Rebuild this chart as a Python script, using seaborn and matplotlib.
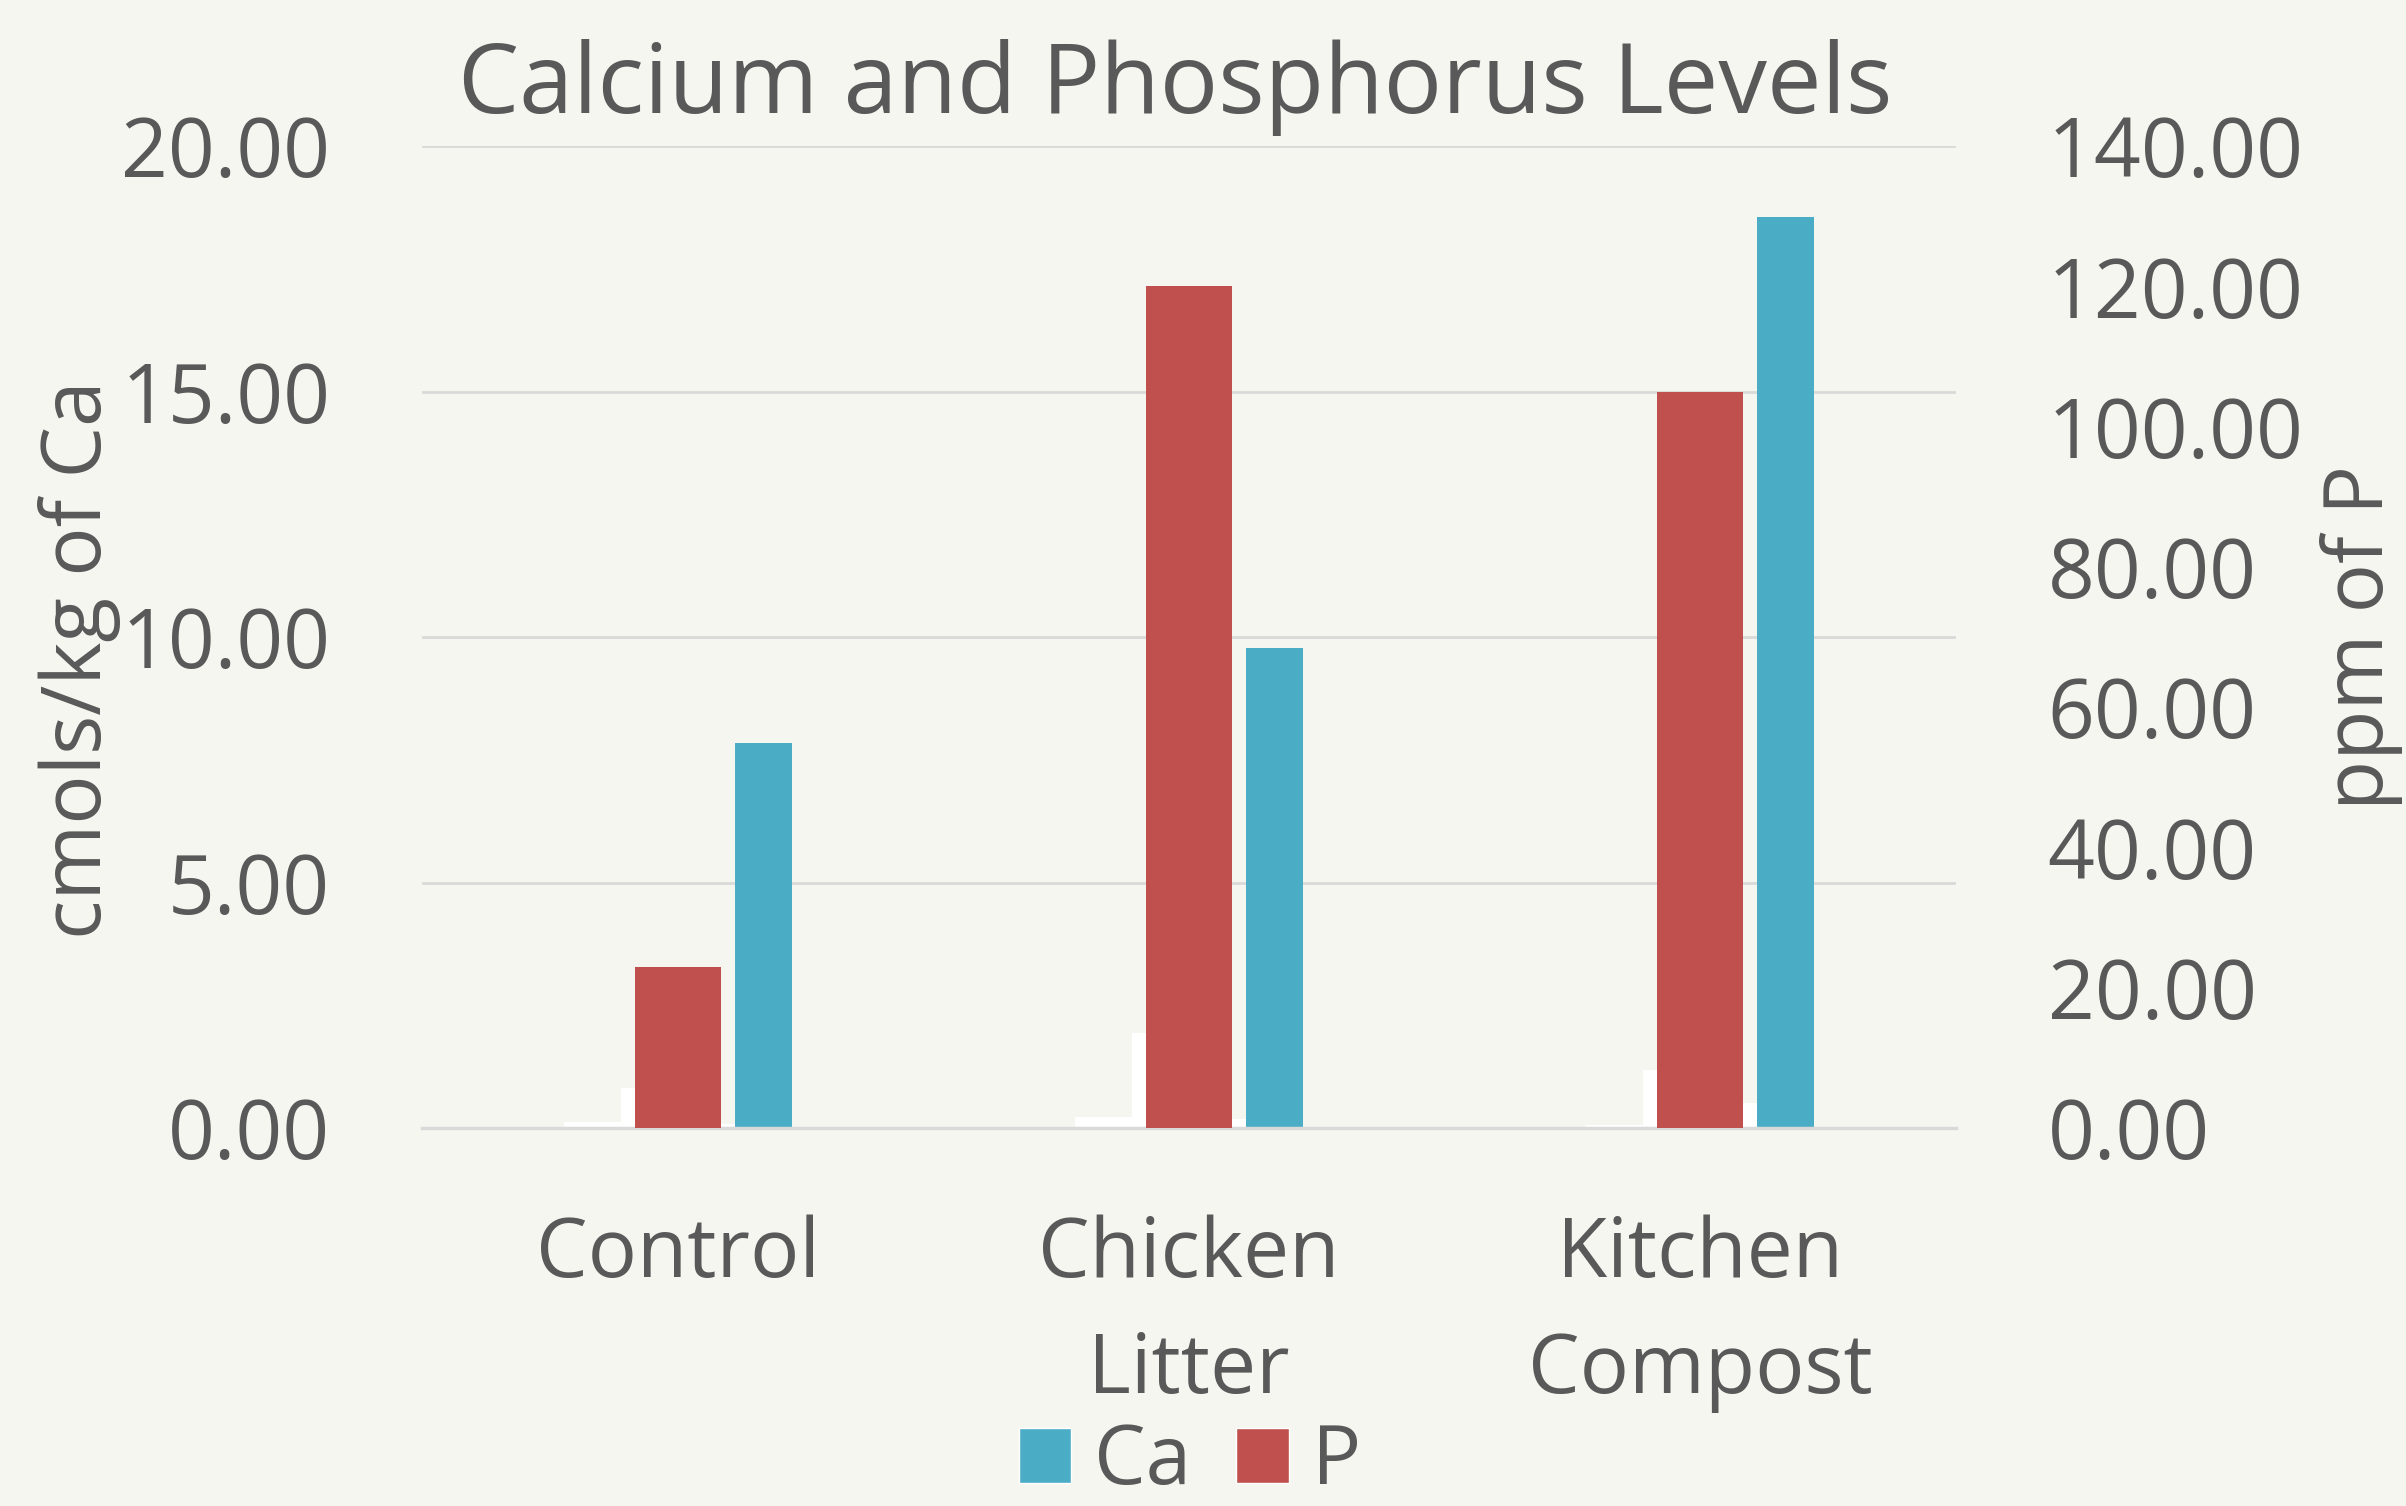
import numpy as np
import pandas as pd
import matplotlib
matplotlib.use("Agg")
import matplotlib.pyplot as plt
from matplotlib.patches import Patch
import seaborn as sns

# --- data ---
categories = ["Control", "Chicken\nLitter", "Kitchen\nCompost"]
ca_values = [7.84, 9.78, 18.56]          # cmols/kg, left axis
p_values = [23.0, 120.1, 105.0]          # ppm, right axis
# unlabelled white series drawn next to Ca on the left axis
white_low = [0.12, 0.22, 0.06]
white_tall = [0.81, 1.93, 1.18]
white_small = [0.09, 0.19, 0.51]

left_ticks = [0, 5, 10, 15, 20]
right_ticks = [0, 20, 40, 60, 80, 100, 120, 140]

BG = "#F6F6F1"
RED = "#C0504D"
BLUE = "#4BACC6"
TXT = "#595959"
GRID = "#D9D9D9"

sns.set_theme(style="white")
plt.rcParams["font.family"] = ["Open Sans", "DejaVu Sans"]

# long table for the left-axis cluster
series_names = ["w1", "w2", "w3", "Ca"]
rows = []
for name, vals in zip(series_names, [white_low, white_tall, white_small, ca_values]):
    for cat, v in zip(categories, vals):
        rows.append({"cat": cat, "series": name, "value": v})
df_left = pd.DataFrame(rows)
df_right = pd.DataFrame({"cat": categories, "P": p_values})

fig = plt.figure(figsize=(24.06, 15.06), dpi=100, facecolor=BG)
ax = fig.add_axes([0.1754, 0.251, 0.6376, 0.652])
ax.set_facecolor(BG)

sns.barplot(data=df_left, x="cat", y="value", hue="series", order=categories,
            hue_order=series_names,
            palette=["white", "white", "white", BLUE], width=0.446, gap=0,
            saturation=1, linewidth=0, legend=False, ax=ax)

ax2 = ax.twinx()
sns.barplot(data=df_right, x="cat", y="P", order=categories, color=RED,
            width=0.168, saturation=1, linewidth=0, ax=ax2)

ax.set_xlim(-0.5, 2.5)
ax.set_ylim(0, 20)
ax2.set_ylim(0, 140)
ax.set_yticks(left_ticks)
ax.set_yticklabels([f"{t:.2f}" for t in left_ticks])
ax2.set_yticks(right_ticks)
ax2.set_yticklabels([f"{t:.2f}" for t in right_ticks])

ax.set_axisbelow(True)
ax.yaxis.grid(True, color=GRID, linewidth=2)
ax.xaxis.grid(False)
for a in (ax, ax2):
    for s in a.spines.values():
        s.set_visible(False)
ax.spines["bottom"].set_visible(True)
ax.spines["bottom"].set_color(GRID)
ax.spines["bottom"].set_linewidth(2.5)

fs = 59
ax.tick_params(axis="y", length=0, pad=66, labelsize=fs, labelcolor=TXT)
ax2.tick_params(axis="y", length=0, pad=66, labelsize=fs, labelcolor=TXT)
ax.tick_params(axis="x", length=0, pad=62, labelsize=fs, labelcolor=TXT)
for lbl in ax.get_xticklabels():
    lbl.set_linespacing(1.55)

ax.set_xlabel("")
ax.set_ylabel("cmols/kg of Ca", fontsize=fs, color=TXT, va="center", ha="center")
ax.yaxis.set_label_coords(-0.223, 0.477)
ax2.set_ylabel("ppm of P", fontsize=fs, color=TXT, rotation=90, va="center", ha="center")
ax2.yaxis.set_label_coords(1.264, 0.5)

fig.text(1175 / 2406, 1 - 88 / 1506, "Calcium and Phosphorus Levels",
         ha="center", va="center", fontsize=70, color=TXT)

handles = [Patch(facecolor=BLUE, label="Ca"), Patch(facecolor=RED, label="P")]
fig.legend(handles=handles, loc="center", bbox_to_anchor=(1190 / 2406, 1 - 1463 / 1506),
           ncol=2, frameon=False, fontsize=fs, labelcolor=TXT, borderpad=0.2,
           handlelength=0.64, handleheight=0.64, handletextpad=0.28, columnspacing=0.55)

fig.savefig("out.png", dpi=100, facecolor=BG)
